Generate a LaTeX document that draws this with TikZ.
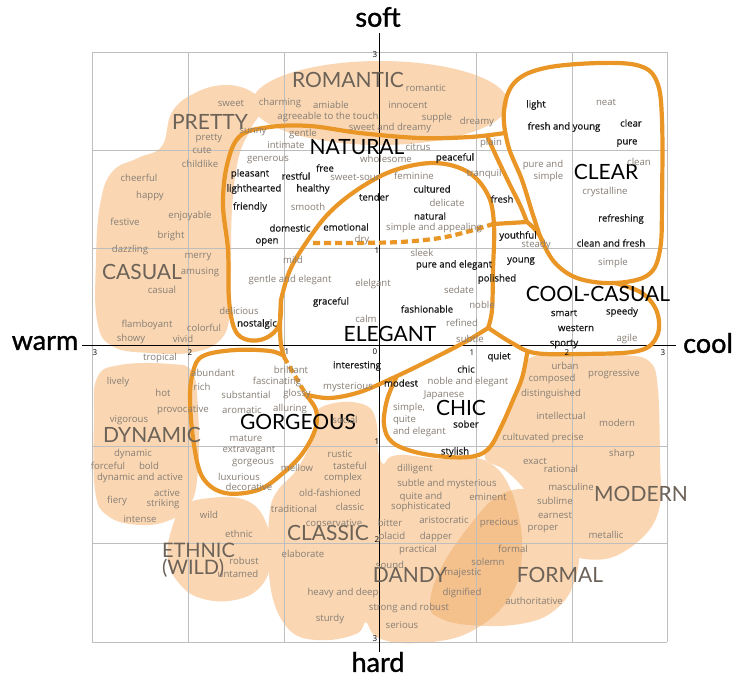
\documentclass[tikz,border=0pt]{standalone}
\usepackage{fontspec}
\setmainfont{Open Sans}
\newfontfamily\bigf{Lato}
\newfontfamily\axf[FakeBold=1.2]{Lato}
\newfontfamily\semib[FakeBold=0.7]{Open Sans}
\definecolor{peach}{RGB}{250,215,178}
\definecolor{peachd}{RGB}{244,192,140}
\definecolor{orng}{RGB}{233,150,38}
\definecolor{tgray}{RGB}{135,126,117}
\definecolor{lbrown}{RGB}{108,98,88}
\definecolor{tblack}{RGB}{25,25,25}
\definecolor{gridc}{RGB}{190,190,190}
\begin{document}
\begin{tikzpicture}[x=1pt,y=-1pt,
  every node/.style={inner sep=0pt, outer sep=0pt},
  w/.style={font=\fontsize{9.6}{11}\selectfont, text=tgray},
  b/.style={font=\semib\fontsize{9.6}{11}\selectfont, text=tblack},
  lp/.style={font=\bigf\fontsize{21}{21}\selectfont, text=lbrown},
  lk/.style={font=\bigf\fontsize{21}{21}\selectfont, text=black},
  ax/.style={font=\axf\fontsize{27}{27}\selectfont, text=black},
  tk/.style={font=\fontsize{8}{8}\selectfont, text=black},
  ol/.style={draw=orng, line width=4.2pt, line cap=round, line join=round},
  dl/.style={draw=orng, line width=4.2pt, dash pattern=on 7pt off 4pt},
  blob/.style={fill=peach, draw=none},
  gl/.style={draw=gridc, line width=0.8pt}]
\useasboundingbox (0,0) rectangle (744,681);
\fill[white] (0,0) rectangle (744,681);
% ---------- peach blobs ----------
\fill[blob] (380,103) ellipse [x radius=128, y radius=42];
\fill[blob] plot[smooth cycle, tension=0.7] coordinates {(172,112) (195,93) (225,85) (252,92) (262,108) (250,130) (238,160) (232,210) (231,270) (230,310) (222,338) (195,352) (150,353) (112,346) (97,320) (96,260) (100,205) (112,172) (138,158) (162,146)};
\fill[blob] plot[smooth cycle, tension=0.7] coordinates {(97,378) (120,365) (170,364) (192,372) (198,410) (198,470) (190,505) (170,520) (140,525) (108,516) (95,490) (94,420)};
\fill[blob] plot[smooth cycle, tension=0.7] coordinates {(170,535) (183,507) (210,498) (245,500) (265,520) (271,555) (262,585) (235,600) (200,598) (178,582) (168,560)};
\fill[blob] plot[smooth cycle, tension=0.6] coordinates {(316,412) (330,404) (352,402) (370,408) (377,425) (378,450) (383,464) (390,457) (405,455) (440,459) (475,458) (493,465) (506,480) (516,505) (522,540) (518,580) (500,610) (470,632) (440,641) (400,643) (375,636) (366,622) (358,633) (330,640) (300,637) (283,622) (272,595) (268,555) (270,510) (278,490) (295,472) (308,450) (316,430)};
\fill[blob] plot[smooth cycle, tension=0.6] coordinates {(535,356) (620,355) (650,362) (658,390) (660,460) (660,505) (645,535) (610,558) (570,556) (550,540) (540,515) (525,490) (505,470) (485,458) (497,435) (510,410) (522,380)};
\fill[blob] plot[smooth cycle, tension=0.7] coordinates {(430,605) (440,570) (470,525) (500,495) (535,490) (565,505) (578,540) (575,580) (555,610) (520,624) (470,625) (440,618)};
\begin{scope}
\clip plot[smooth cycle, tension=0.6] coordinates {(316,412) (330,404) (352,402) (370,408) (377,425) (378,450) (383,464) (390,457) (405,455) (440,459) (475,458) (493,465) (506,480) (516,505) (522,540) (518,580) (500,610) (470,632) (440,641) (400,643) (375,636) (366,622) (358,633) (330,640) (300,637) (283,622) (272,595) (268,555) (270,510) (278,490) (295,472) (308,450) (316,430)};
\fill[peachd] plot[smooth cycle, tension=0.7] coordinates {(430,605) (440,570) (470,525) (500,495) (535,490) (565,505) (578,540) (575,580) (555,610) (520,624) (470,625) (440,618)};
\end{scope}
% ---------- grid ----------
\foreach \x in {92,188,284,476,572,667} \draw[gl] (\x,52) -- (\x,642);
\foreach \y in {52,150,248,446,543,642} \draw[gl] (92,\y) -- (667,\y);
\draw[black, line width=0.9pt] (379,33) -- (379,652);
\draw[black, line width=0.9pt] (82,345) -- (676,345);
% ---------- orange outlines ----------
% CLEAR
\draw[ol] plot[smooth cycle, tension=0.6] coordinates {(515,82) (545,68) (600,63) (640,66) (657,82) (662,120) (662,200) (660,250) (648,275) (615,283) (580,279) (557,265) (543,243) (533,215) (522,180) (508,145) (504,110)};
% NATURAL left, top
\draw[ol] plot[smooth, tension=0.6] coordinates {(281,300) (279,325) (266,338) (248,340) (235,330) (229,300) (228,250) (223,205) (227,165) (240,136) (270,127) (310,126) (360,133) (420,138) (470,137) (505,133)};
% NATURAL right
\draw[ol] plot[smooth, tension=0.6] coordinates {(488,138) (498,160) (510,185) (520,205) (527,222)};
% ELEGANT
\draw[ol] plot[smooth, tension=0.6] coordinates {(281,300) (290,270) (308,240) (330,212) (360,188) (395,170) (435,163) (468,172) (488,195) (494,225) (493,270) (492,310) (488,328)};
\draw[ol] plot[smooth, tension=0.6] coordinates {(488,328) (465,342) (430,360) (395,377) (360,392) (330,398) (308,395)};
\draw[ol] plot[smooth, tension=0.6] coordinates {(281,300) (280,325) (281,345) (284,356)};
\draw[dl] (284,357) -- (305,393);
% GORGEOUS
\draw[ol] plot[smooth, tension=0.6] coordinates {(284,356) (270,351) (235,350) (203,356) (193,372) (190,400) (194,445) (203,478) (225,493) (258,490) (282,474) (302,454) (315,430) (316,410) (305,394)};
% dashed NATURAL / ELEGANT border
\draw[dl] plot[smooth, tension=0.6] coordinates {(313,243) (350,243) (400,242) (440,238) (470,231) (493,224)};
% youthful / COOL-CASUAL
\draw[ol] (493,224) -- (527,222) .. controls (535,228) and (540,235) .. (544,244);
\draw[ol] plot[smooth, tension=0.6] coordinates {(615,283) (642,293) (657,312) (657,336) (638,351) (580,354) (535,353) (512,343) (490,329)};
% CHIC
\draw[ol] plot[smooth, tension=0.6] coordinates {(396,378) (387,400) (384,425) (392,442) (415,452) (448,457) (475,456) (490,447) (502,425) (513,400) (522,378) (527,354)};
% ---------- axis words ----------
\node[ax] (soft) at (378,17) {soft};
\node[ax] (hard) at (378,662) {hard};
\node[ax] (warm) at (45,343) {warm};
\node[ax] (cool) at (708,343) {cool};
% ---------- ticks ----------
\node[tk] (tkl3) at (95,353) {3};
\node[tk] (tkl2) at (190,353) {2};
\node[tk] (tkl1) at (287,352) {1};
\node[tk] (tk0) at (375,352) {0};
\node[tk] (tkr1) at (472,353) {1};
\node[tk] (tkr2) at (567,353) {2};
\node[tk] (tkr3) at (663,353) {3};
\node[tk] (tkt3) at (375,55) {3};
\node[tk] (tkt1) at (377,251) {1};
\node[tk] (tkb1) at (377,442) {1};
\node[tk] (tkb2) at (377,540) {2};
\node[tk] (tkb3) at (375,639) {3};
% ---------- big labels ----------
\node[lp] (LROMANTIC) at (348,80) {ROMANTIC};
\node[lp] (LPRETTY) at (210,122) {PRETTY};
\node[lp] (LCASUAL) at (142,272) {CASUAL};
\node[lp] (LDYNAMIC) at (152,435) {DYNAMIC};
\node[lp, align=left, anchor=north west, font=\bigf\fontsize{20}{15}\selectfont] (LETHNIC) at (162,543) {ETHNIC\\(WILD)};
\node[lp] (LCLASSIC) at (328,533) {CLASSIC};
\node[lp] (LDANDY) at (410,575) {DANDY};
\node[lp] (LFORMAL) at (560,575) {FORMAL};
\node[lp] (LMODERN) at (641,494) {MODERN};
\node[lk] (LNATURAL) at (357,147) {NATURAL};
\node[lk] (LCLEAR) at (606,172) {CLEAR};
\node[lk] (LCOOL) at (598,294) {COOL-CASUAL};
\node[lk] (LELEGANT) at (390,334) {ELEGANT};
\node[lk] (LGORGEOUS) at (298,422) {GORGEOUS};
\node[lk] (LCHIC) at (461,408) {CHIC};
% ---------- words ----------
\node[w] (romantic) at (426,88) {romantic};
\node[w] (charming) at (280,103) {charming};
\node[w] (amiable) at (331,105) {amiable};
\node[w] (innocent) at (408,105) {innocent};
\node[w] (agreeable) at (328,117) {agreeable to the touch};
\node[w] (supple) at (437,118) {supple};
\node[w] (dreamy) at (477,122) {dreamy};
\node[w] (sweetdreamy) at (390,128) {sweet and dreamy};
\node[w] (gentle) at (303,134) {gentle};
\node[w] (intimate) at (286,145) {intimate};
\node[w] (citrus) at (418,147) {citrus};
\node[w] (plain) at (491,143) {plain};
\node[w] (wholesome) at (386,159) {wholesome};
\node[b] (peaceful) at (455,158) {peaceful};
\node[b] (free) at (325,168) {free};
\node[b] (restful) at (296,176) {restful};
\node[w] (sweetsour) at (355,177) {sweet-sour};
\node[w] (feminine) at (414,176) {feminine};
\node[w] (tranquil) at (484,174) {tranquil};
\node[b] (healthy) at (313,189) {healthy};
\node[b] (cultured) at (432,189) {cultured};
\node[b] (tender) at (374,197) {tender};
\node[b] (fresh) at (502,199) {fresh};
\node[w] (sweet) at (231,103) {sweet};
\node[w] (sunny) at (253,132) {sunny};
\node[w] (pretty) at (209,138) {pretty};
\node[w] (cute) at (202,150) {cute};
\node[w] (childlike) at (200,164) {childlike};
\node[w] (generous) at (268,160) {generous};
\node[b] (pleasant) at (250,174) {pleasant};
\node[b] (lighthearted) at (254,189) {lighthearted};
\node[w] (cheerful) at (139,178) {cheerful};
\node[w] (happy) at (150,196) {happy};
\node[b] (friendly) at (250,207) {friendly};
\node[w] (smooth) at (308,207) {smooth};
\node[w] (delicate) at (447,203) {delicate};
\node[w] (festive) at (125,222) {festive};
\node[w] (enjoyable) at (190,216) {enjoyable};
\node[w] (bright) at (171,236) {bright};
\node[b] (domestic) at (290,228) {domestic};
\node[b] (emotional) at (346,227) {emotional};
\node[b] (natural) at (430,216) {natural};
\node[w] (appealing) at (434,228) {simple and appealing};
\node[b] (open) at (267,242) {open};
\node[w] (dry) at (362,240) {dry};
\node[b] (youthful) at (518,236) {youthful};
\node[w] (steady) at (536,245) {steady};
\node[b] (refreshing) at (621,219) {refreshing};
\node[b] (cleanfresh) at (611,243) {clean and fresh};
\node[w] (dazzling) at (130,250) {dazzling};
\node[w] (merry) at (198,257) {merry};
\node[w] (amusing) at (200,272) {amusing};
\node[w] (mild) at (293,260) {mild};
\node[w] (sleek) at (422,253) {sleek};
\node[b] (young) at (521,261) {young};
\node[w] (simple) at (613,263) {simple};
\node[b] (pureelegant) at (454,265) {pure and elegant};
\node[w] (gentleelegant) at (290,280) {gentle and elegant};
\node[w] (elelgant) at (373,284) {elelgant};
\node[b] (polished) at (497,279) {polished};
\node[w] (casual) at (162,290) {casual};
\node[w] (sedate) at (459,290) {sedate};
\node[b] (graceful) at (331,302) {graceful};
\node[b] (fashionable) at (427,309) {fashionable};
\node[w] (noble) at (482,305) {noble};
\node[w] (delicious) at (239,311) {delicious};
\node[b] (smart) at (564,313) {smart};
\node[b] (speedy) at (622,312) {speedy};
\node[w] (calm) at (366,319) {calm};
\node[w] (refined) at (462,323) {refined};
\node[w] (flamboyant) at (147,325) {flamboyant};
\node[w] (colorful) at (204,328) {colorful};
\node[b] (nostalgic) at (257,324) {nostalgic};
\node[b] (western) at (576,328) {western};
\node[w] (subtle) at (470,339) {subtle};
\node[w] (showy) at (131,339) {showy};
\node[w] (vivid) at (183,339) {vivid};
\node[w] (agile) at (627,339) {agile};
\node[b] (sporty) at (564,344) {sporty};
\node[w] (tropical) at (160,358) {tropical};
\node[b] (quiet) at (499,357) {quiet};
\node[b] (interesting) at (357,366) {interesting};
\node[b] (chic) at (466,369) {chic};
\node[w] (brilliant) at (291,370) {brilliant};
\node[w] (abundant) at (213,373) {abundant};
\node[w] (fascinating) at (277,382) {fascinating};
\node[w] (rich) at (202,387) {rich};
\node[w] (lively) at (118,382) {lively};
\node[w] (hot) at (163,393) {hot};
\node[w] (mysterious) at (348,387) {mysterious};
\node[b] (modest) at (401,383) {modest};
\node[w] (nobleelegant) at (468,382) {noble and elegant};
\node[w] (substantial) at (246,395) {substantial};
\node[w] (glossy) at (297,394) {glossy};
\node[w] (japanese) at (444,395) {Japanese};
\node[w] (urban) at (565,366) {urban};
\node[w] (composed) at (552,379) {composed};
\node[w] (progressive) at (614,374) {progressive};
\node[w] (distinguished) at (551,394) {distinguished};
\node[w] (provocative) at (183,410) {provocative};
\node[w] (aromatic) at (242,410) {aromatic};
\node[w] (alluring) at (290,409) {alluring};
\node[w, align=left, anchor=north west, font=\fontsize{9.6}{12}\selectfont] (simplequite) at (393,403) {simple,\\quite\\and elegant};
\node[w] (social) at (345,420) {social};
\node[w] (vigorous) at (129,420) {vigorous};
\node[b] (sober) at (466,424) {sober};
\node[w] (intellectual) at (561,416) {intellectual};
\node[w] (modern) at (617,423) {modern};
\node[w] (mature) at (246,438) {mature};
\node[w] (cultuvated) at (543,438) {cultuvated precise};
\node[b] (stylish) at (455,452) {stylish};
\node[w] (dynamic) at (133,454) {dynamic};
\node[w] (extravagant) at (249,450) {extravagant};
\node[w] (rustic) at (340,454) {rustic};
\node[w] (sharp) at (622,454) {sharp};
\node[w] (forceful) at (108,466) {forceful};
\node[w] (bold) at (149,466) {bold};
\node[w] (gorgeous) at (253,463) {gorgeous};
\node[w] (tasteful) at (350,466) {tasteful};
\node[w] (exact) at (535,461) {exact};
\node[w] (mellow) at (297,468) {mellow};
\node[w] (dilligent) at (415,469) {dilligent};
\node[w] (rational) at (561,469) {rational};
\node[w] (dynactive) at (140,478) {dynamic and active};
\node[w] (luxurious) at (239,477) {luxurious};
\node[w] (complex) at (343,478) {complex};
\node[w] (decorative) at (249,487) {decorative};
\node[w] (subtlemyst) at (447,484) {subtle and mysterious};
\node[w] (masculine) at (571,487) {masculine};
\node[w] (active) at (167,493) {active};
\node[w] (oldfashioned) at (330,493) {old-fashioned};
\node[w, align=center, font=\fontsize{9.6}{10.5}\selectfont] (sophisticated) at (421,502) {quite and\\sophisticated};
\node[w] (eminent) at (488,497) {eminent};
\node[w] (sublime) at (555,501) {sublime};
\node[w] (fiery) at (117,501) {fiery};
\node[w] (striking) at (163,504) {striking};
\node[w] (traditional) at (294,509) {traditional};
\node[w] (classic) at (350,507) {classic};
\node[w] (wild) at (209,515) {wild};
\node[w] (earnest) at (555,515) {earnest};
\node[w] (intense) at (140,519) {intense};
\node[w] (bitter) at (390,523) {bitter};
\node[w] (aristocratic) at (444,520) {aristocratic};
\node[w] (precious) at (499,523) {precious};
\node[w] (proper) at (543,529) {proper};
\node[w] (metallic) at (606,535) {metallic};
\node[w] (conservative) at (334,523) {conservative};
\node[w] (ethnic) at (239,534) {ethnic};
\node[w] (placid) at (392,537) {placid};
\node[w] (dapper) at (436,537) {dapper};
\node[w] (elaborate) at (303,554) {elaborate};
\node[w] (practical) at (418,550) {practical};
\node[w] (formal) at (513,549) {formal};
\node[w] (robust) at (244,561) {robust};
\node[w] (solemn) at (488,562) {solemn};
\node[w] (sound) at (390,565) {sound};
\node[w] (majestic) at (463,573) {majestic};
\node[w] (untamed) at (238,574) {untamed};
\node[w] (heavydeep) at (343,593) {heavy and deep};
\node[w] (dignified) at (462,593) {dignified};
\node[w] (authoritative) at (534,601) {authoritative};
\node[w] (strongrobust) at (409,608) {strong and robust};
\node[w] (sturdy) at (330,619) {sturdy};
\node[w] (serious) at (402,625) {serious};
\node[b] (light) at (536,105) {light};
\node[w] (neat) at (606,102) {neat};
\node[b] (freshyoung) at (564,127) {fresh and young};
\node[b] (clear) at (631,123) {clear};
\node[b] (pure) at (627,143) {pure};
\node[w, align=right, font=\fontsize{9.6}{12}\selectfont] (puresimple) at (543,171) {pure and\\simple};
\node[w] (clean) at (639,162) {clean};
\node[w] (crystalline) at (605,192) {crystalline};
\end{tikzpicture}
\end{document}
